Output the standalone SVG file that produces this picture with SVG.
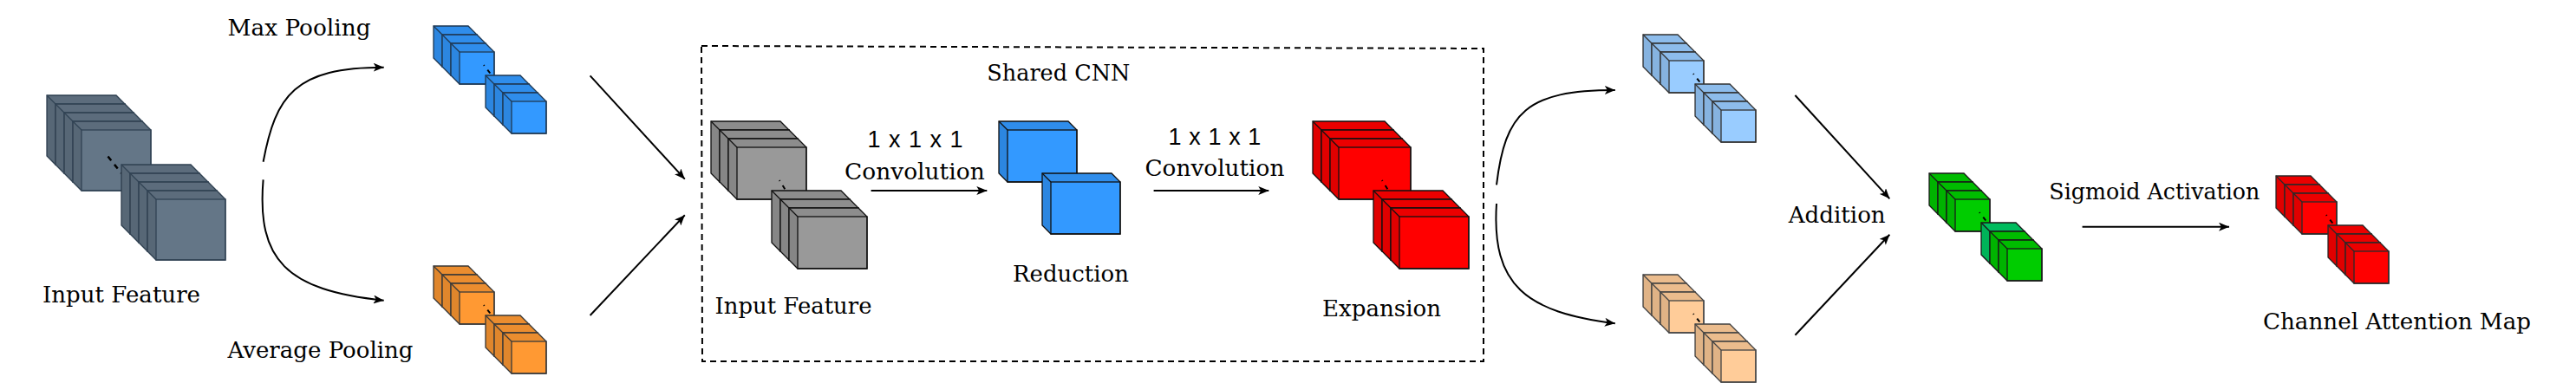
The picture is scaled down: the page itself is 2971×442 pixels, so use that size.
<svg xmlns="http://www.w3.org/2000/svg" xmlns:xlink="http://www.w3.org/1999/xlink" width="2971" height="442" viewBox="0 0 2971 442">
<style>
.t{font-family:"DejaVu Serif","Liberation Serif",serif;font-size:26.5px;fill:#000}
.s{font-family:"Liberation Sans",Arial,sans-serif;font-size:27px;fill:#000}
.con{fill:none;stroke:#000;stroke-width:2;marker-end:url(#arr)}
.dots{fill:none;stroke:#000;stroke-width:2.5;stroke-dasharray:6 6}
.box{fill:none;stroke:#000;stroke-width:2;stroke-dasharray:7 5}
use{stroke-width:1.3}
.slate{color:#647687;stroke:#314354}
.blue{color:#3399FF;stroke:#203a55}
.orange{color:#FF9933;stroke:#3a3a3a}
.gray{color:#999999;stroke:#111}
.rblue{color:#3399FF;stroke:#111}
.red{color:#FF0000;stroke:#111}
.lblue{color:#99CCFF;stroke:#333}
.peach{color:#FFCC99;stroke:#444}
.green{color:#00CC00;stroke:#1a1a1a}
.teal{color:#00CC66;stroke:#1a1a1a}
.redo{color:#FF0000;stroke:#2a2a2a}
</style>
<defs>
<marker id="arr" markerUnits="userSpaceOnUse" viewBox="0 0 12 10" markerWidth="12" markerHeight="10" refX="12" refY="5" orient="auto"><path d="M0,0 L12,5 L0,10 L3,5 Z" fill="#000"/></marker>
<g id="LA"><path d="M0,0 H80 L90,10 V80 H10 L0,70 Z" fill="currentColor"/><path d="M0,0 H80 L90,10 H10 Z" fill="#000" fill-opacity="0.08" stroke="none"/><path d="M0,0 L10,10 V80 L0,70 Z" fill="#000" fill-opacity="0.12" stroke="none"/><rect x="10" y="10" width="80" height="70" fill="none"/><path d="M0,0 L10,10" fill="none"/></g>
<g id="LB"><path d="M0,0 H40 L50,10 V47 H10 L0,37 Z" fill="currentColor"/><path d="M0,0 H40 L50,10 H10 Z" fill="#000" fill-opacity="0.08" stroke="none"/><path d="M0,0 L10,10 V47 L0,37 Z" fill="#000" fill-opacity="0.12" stroke="none"/><rect x="10" y="10" width="40" height="37" fill="none"/><path d="M0,0 L10,10" fill="none"/></g>
<g id="LC"><path d="M0,0 H80 L90,10 V70 H10 L0,60 Z" fill="currentColor"/><path d="M0,0 H80 L90,10 H10 Z" fill="#000" fill-opacity="0.08" stroke="none"/><path d="M0,0 L10,10 V70 L0,60 Z" fill="#000" fill-opacity="0.12" stroke="none"/><rect x="10" y="10" width="80" height="60" fill="none"/><path d="M0,0 L10,10" fill="none"/></g>
<g id="LD"><path d="M0,0 H83 L93,10 V70 H10 L0,60 Z" fill="currentColor"/><path d="M0,0 H83 L93,10 H10 Z" fill="#000" fill-opacity="0.08" stroke="none"/><path d="M0,0 L10,10 V70 L0,60 Z" fill="#000" fill-opacity="0.12" stroke="none"/><rect x="10" y="10" width="83" height="60" fill="none"/><path d="M0,0 L10,10" fill="none"/></g>
</defs>
<rect width="2971" height="442" fill="#fff"/>

<g id="input-feature">
<use href="#LA" x="54" y="110" class="slate"/><use href="#LA" x="64" y="120" class="slate"/><use href="#LA" x="74" y="130" class="slate"/><use href="#LA" x="84" y="140" class="slate"/>
<path class="dots" d="M124.5,180.5 L140,200"/>
<use href="#LA" x="140" y="190" class="slate"/><use href="#LA" x="150" y="200" class="slate"/><use href="#LA" x="160" y="210" class="slate"/><use href="#LA" x="170" y="220" class="slate"/>
<text class="t" x="49" y="349" textLength="182" lengthAdjust="spacingAndGlyphs">Input Feature</text>
</g>

<g id="max-pool">
<use href="#LB" x="500" y="30" class="blue"/><use href="#LB" x="510" y="40" class="blue"/><use href="#LB" x="520" y="50" class="blue"/>
<path class="dots" style="stroke-width:2;stroke-dasharray:1 6 5 20" d="M558,75 L568,88"/>
<use href="#LB" x="560" y="87" class="blue"/><use href="#LB" x="570" y="97" class="blue"/><use href="#LB" x="580" y="107" class="blue"/>
<text class="t" x="262.5" y="40.7" textLength="165" lengthAdjust="spacingAndGlyphs">Max Pooling</text>
</g>

<g id="avg-pool">
<use href="#LB" x="500" y="307" class="orange"/><use href="#LB" x="510" y="317" class="orange"/><use href="#LB" x="520" y="327" class="orange"/>
<path class="dots" style="stroke-width:2;stroke-dasharray:1 6 5 20" d="M558,352 L568,365"/>
<use href="#LB" x="560" y="364" class="orange"/><use href="#LB" x="570" y="374" class="orange"/><use href="#LB" x="580" y="384" class="orange"/>
<text class="t" x="262.5" y="412.7" textLength="214" lengthAdjust="spacingAndGlyphs">Average Pooling</text>
</g>

<g id="shared-cnn">
<path class="box" d="M809,53 L1711,56 L1711,417 L810,417 Z"/>
<text class="t" x="1138.3" y="92.7" textLength="165" lengthAdjust="spacingAndGlyphs">Shared CNN</text>
</g>

<g id="cnn-input">
<use href="#LC" x="820" y="140" class="gray"/><use href="#LC" x="830" y="150" class="gray"/><use href="#LC" x="840" y="160" class="gray"/>
<path class="dots" style="stroke-width:2;stroke-dasharray:1 6 5 20" d="M899,208 L907,221"/>
<use href="#LC" x="890" y="220" class="gray"/><use href="#LC" x="900" y="230" class="gray"/><use href="#LC" x="910" y="240" class="gray"/>
<text class="t" x="824.5" y="361.7" textLength="181" lengthAdjust="spacingAndGlyphs">Input Feature</text>
</g>

<g id="reduction">
<use href="#LC" x="1152" y="140" class="rblue"/>
<use href="#LC" x="1202" y="200" class="rblue"/>
<text class="t" x="1168" y="325" textLength="134" lengthAdjust="spacingAndGlyphs">Reduction</text>
</g>

<g id="expansion">
<use href="#LD" x="1514" y="140" class="red"/><use href="#LD" x="1524" y="150" class="red"/><use href="#LD" x="1534" y="160" class="red"/>
<path class="dots" style="stroke-width:2;stroke-dasharray:1 6 5 20" d="M1594,208 L1602,221"/>
<use href="#LC" x="1584" y="220" class="red"/><use href="#LC" x="1594" y="230" class="red"/><use href="#LC" x="1604" y="240" class="red"/>
<text class="t" x="1525" y="365" textLength="137" lengthAdjust="spacingAndGlyphs">Expansion</text>
</g>

<g id="max-out">
<use href="#LB" x="1895" y="40" class="lblue"/><use href="#LB" x="1905" y="50" class="lblue"/><use href="#LB" x="1915" y="60" class="lblue"/>
<path class="dots" style="stroke-width:2;stroke-dasharray:1 6 5 20" d="M1953,85 L1963,98"/>
<use href="#LB" x="1955" y="97" class="lblue"/><use href="#LB" x="1965" y="107" class="lblue"/><use href="#LB" x="1975" y="117" class="lblue"/>
</g>

<g id="avg-out">
<use href="#LB" x="1895" y="317" class="peach"/><use href="#LB" x="1905" y="327" class="peach"/><use href="#LB" x="1915" y="337" class="peach"/>
<path class="dots" style="stroke-width:2;stroke-dasharray:1 6 5 20" d="M1953,362 L1963,375"/>
<use href="#LB" x="1955" y="374" class="peach"/><use href="#LB" x="1965" y="384" class="peach"/><use href="#LB" x="1975" y="394" class="peach"/>
</g>

<g id="addition">
<use href="#LB" x="2225" y="200" class="green"/><use href="#LB" x="2235" y="210" class="green"/><use href="#LB" x="2245" y="220" class="green"/>
<path class="dots" style="stroke-width:2;stroke-dasharray:1 6 5 20" d="M2283,245 L2293,258"/>
<use href="#LB" x="2285" y="257" class="teal"/><use href="#LB" x="2295" y="267" class="green"/><use href="#LB" x="2305" y="277" class="green"/>
<text class="t" x="2062.7" y="256.7" textLength="112" lengthAdjust="spacingAndGlyphs">Addition</text>
</g>

<g id="attention-map">
<use href="#LB" x="2625" y="203" class="redo"/><use href="#LB" x="2635" y="213" class="redo"/><use href="#LB" x="2645" y="223" class="redo"/>
<path class="dots" style="stroke-width:2;stroke-dasharray:1 6 5 20" d="M2683,248 L2693,261"/>
<use href="#LB" x="2685" y="260" class="redo"/><use href="#LB" x="2695" y="270" class="redo"/><use href="#LB" x="2705" y="280" class="redo"/>
<text class="t" x="2610" y="380" textLength="309" lengthAdjust="spacingAndGlyphs">Channel Attention Map</text>
</g>

<g id="connectors">
<path class="con" d="M303.6,186.7 C318,110 340,77.7 442.7,77.7"/>
<path class="con" d="M303.6,207.3 C296,300 330,335 442.7,346.7"/>
<path class="con" d="M680.6,87.3 L789.8,206.7"/>
<path class="con" d="M680.6,364 L789.8,248.3"/>
<path class="con" d="M1004.6,220 L1138.3,220"/>
<text class="s" x="1000.5" y="170" textLength="110" lengthAdjust="spacing">1 x 1 x 1</text>
<text class="t" x="974" y="206.7" textLength="161.7" lengthAdjust="spacingAndGlyphs">Convolution</text>
<path class="con" d="M1330.6,220 L1463.3,220"/>
<text class="s" x="1347.4" y="166.7" textLength="107" lengthAdjust="spacing">1 x 1 x 1</text>
<text class="t" x="1320.4" y="203.3" textLength="161" lengthAdjust="spacingAndGlyphs">Convolution</text>
<path class="con" d="M1726,213.3 C1736,130 1760,104 1862.8,104"/>
<path class="con" d="M1726,235 C1720,330 1760,360 1862.8,373.3"/>
<path class="con" d="M2070.4,110 L2179.4,229.3"/>
<path class="con" d="M2070.4,386.7 L2179.4,270.7"/>
<path class="con" d="M2401.6,261.7 L2571,261.7"/>
<text class="t" x="2363.3" y="230" textLength="243" lengthAdjust="spacingAndGlyphs">Sigmoid Activation</text>
</g>
</svg>
